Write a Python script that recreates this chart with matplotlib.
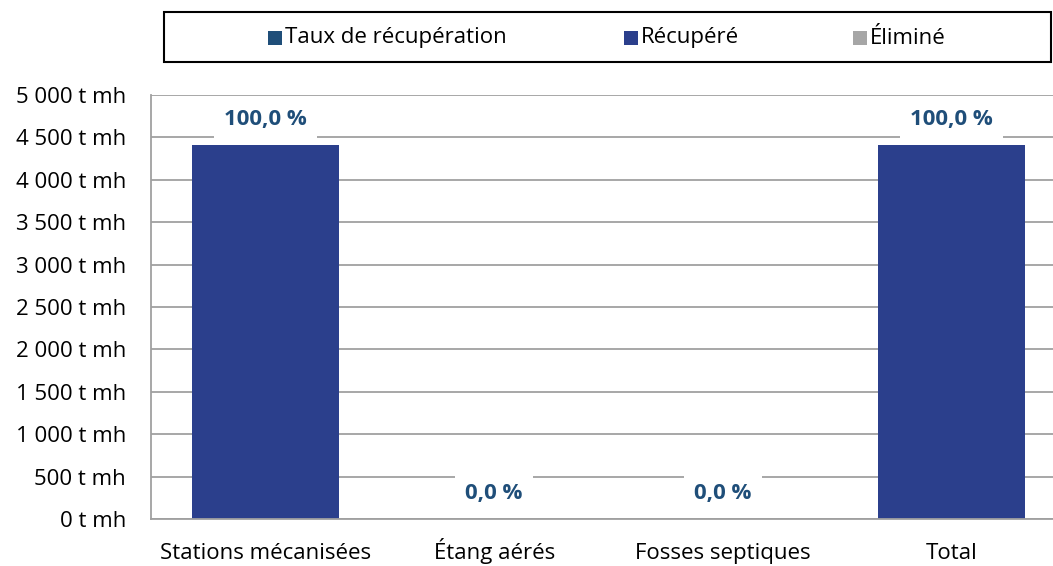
import matplotlib
matplotlib.use("Agg")
import matplotlib.pyplot as plt
from matplotlib.patches import Rectangle
from matplotlib.ticker import FuncFormatter

plt.rcParams['font.family'] = ['Open Sans', 'DejaVu Sans']

categories = ["Stations mécanisées", "Étang aérés", "Fosses septiques", "Total"]
recupere = [4410, 0, 0, 4410]
elimine = [0, 0, 0, 0]
taux_labels = ["100,0 %", "0,0 %", "0,0 %", "100,0 %"]
legend_labels = ["Taux de récupération", "Récupéré", "Éliminé"]
yticks = list(range(0, 5001, 500))

col_taux = "#1F4E79"
col_recup = "#2B3F8C"
col_elim = "#A6A6A6"
grid_col = "#A0A0A0"
FS = 16

W, H = 1053, 566
fig = plt.figure(figsize=(W / 100, H / 100), dpi=100)
ax_left, ax_right, ax_top, ax_bot = 151, 1066, 95, 519
ax = fig.add_axes([ax_left / W, 1 - ax_bot / H, (ax_right - ax_left) / W, (ax_bot - ax_top) / H])

x = list(range(len(categories)))
ax.bar(x, recupere, width=0.64, color=col_recup, zorder=2)
ax.bar(x, elimine, width=0.64, bottom=recupere, color=col_elim, zorder=2)

ax.set_xlim(-0.5, len(categories) - 0.5)
ax.set_ylim(0, 5000)
ax.set_yticks(yticks)
ax.yaxis.set_major_formatter(FuncFormatter(lambda v, p: f"{int(v):,} t mh".replace(",", " ")))
ax.set_xticks(x)
ax.set_xticklabels(categories, va="baseline")
ax.tick_params(axis='both', length=0, labelsize=FS, colors="black")
ax.tick_params(axis='y', pad=18)
ax.tick_params(axis='x', pad=29)
ax.yaxis.grid(True, color=grid_col, linewidth=1.3, zorder=0)
ax.set_axisbelow(True)
for s in ["top", "right"]:
    ax.spines[s].set_visible(False)
for s in ["left", "bottom"]:
    ax.spines[s].set_color(grid_col)
    ax.spines[s].set_linewidth(1.3)
    ax.spines[s].set_zorder(3)

for xi, v, lab in zip(x, recupere, taux_labels):
    ax.annotate(lab, (xi, v), xytext=(0, 26), textcoords="offset pixels",
                ha="center", va="center", fontsize=FS, fontweight="bold", color=col_taux,
                bbox=dict(boxstyle="square,pad=0.45", fc="white", ec="none"), zorder=4)

# Legend box
fig.patches.append(Rectangle((164 / W, 1 - 62 / H), (1051 - 164) / W, 50 / H,
                             transform=fig.transFigure, fill=False, ec="black", lw=1.5))
leg_items = [(275, col_taux), (631, col_recup), (860, col_elim)]
for (px, c), lab in zip(leg_items, legend_labels):
    fig.patches.append(Rectangle(((px - 7) / W, 1 - 45 / H), 14 / W, 14 / H,
                                 transform=fig.transFigure, fc=c, ec="none"))
    fig.text((px + 10) / W, 1 - 38 / H, lab, ha="left", va="center", fontsize=FS)

fig.savefig("out.png", dpi=100)
